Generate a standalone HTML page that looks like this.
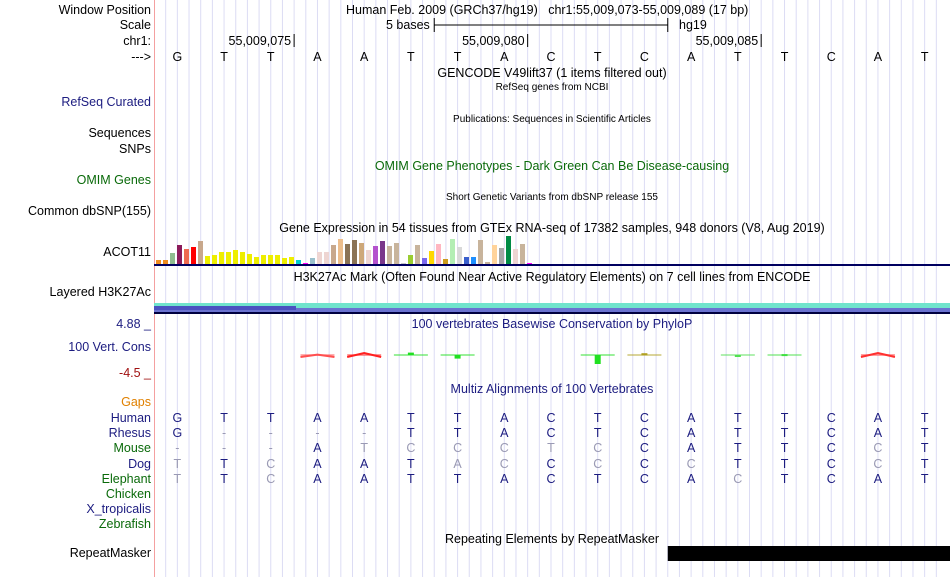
<!DOCTYPE html>
<html><head><meta charset="utf-8"><style>
body{margin:0;background:#fff;}
#c{position:relative;width:950px;height:577px;overflow:hidden;font-family:"Liberation Sans",sans-serif;font-size:12.5px;color:#000;}
.a{position:absolute;white-space:nowrap;line-height:14px;}
.l{position:absolute;right:799px;text-align:right;white-space:nowrap;line-height:14px;}
.t{position:absolute;left:154px;width:796px;text-align:center;white-space:nowrap;line-height:14px;}
.s{font-size:10px;}
.nv{color:#1c1c80}.gr{color:#0a6a0a}
</style></head><body>
<div id="c">
<svg id="g" width="950" height="577" style="position:absolute;left:0;top:0"></svg>
<div class="l" style="top:3px">Window Position</div>
<div class="l" style="top:18px">Scale</div>
<div class="l" style="top:34px">chr1:</div>
<div class="l" style="top:50px">---&gt;</div>
<div class="a" style="left:346px;top:3px">Human Feb. 2009 (GRCh37/hg19)&nbsp;&nbsp;&nbsp;chr1:55,009,073-55,009,089 (17 bp)</div>
<div class="a" style="left:386px;top:18px">5 bases</div>
<div class="a" style="left:679px;top:18px">hg19</div>
<div class="t" style="top:66px">GENCODE V49lift37 (1 items filtered out)</div>
<div class="t s" style="top:81px">RefSeq genes from NCBI</div>
<div class="l nv" style="top:95px">RefSeq Curated</div>
<div class="t s" style="top:113px">Publications: Sequences in Scientific Articles</div>
<div class="l" style="top:126px">Sequences</div>
<div class="l" style="top:142px">SNPs</div>
<div class="t gr" style="top:159px">OMIM Gene Phenotypes - Dark Green Can Be Disease-causing</div>
<div class="l gr" style="top:173px">OMIM Genes</div>
<div class="t s" style="top:191px">Short Genetic Variants from dbSNP release 155</div>
<div class="l" style="top:204px">Common dbSNP(155)</div>
<div class="t" style="top:221px">Gene Expression in 54 tissues from GTEx RNA-seq of 17382 samples, 948 donors (V8, Aug 2019)</div>
<div class="l" style="top:245px">ACOT11</div>
<div class="t" style="top:270px">H3K27Ac Mark (Often Found Near Active Regulatory Elements) on 7 cell lines from ENCODE</div>
<div class="l" style="top:285px">Layered H3K27Ac</div>
<div class="l nv" style="top:317px">4.88 _</div>
<div class="t nv" style="top:317px">100 vertebrates Basewise Conservation by PhyloP</div>
<div class="l nv" style="top:340px">100 Vert. Cons</div>
<div class="l" style="top:366px;color:#a01010">-4.5 _</div>
<div class="t nv" style="top:382px">Multiz Alignments of 100 Vertebrates</div>
<div class="l" style="top:395px;color:#e08000">Gaps</div>
<div class="t" style="top:532px">Repeating Elements by RepeatMasker</div>
<div class="l" style="top:546px">RepeatMasker</div>
</div>
<script>
const bases=["G","T","T","A","A","T","T","A","C","T","C","A","T","T","C","A","T"];
const species=["Human","Rhesus","Mouse","Dog","Elephant","Chicken","X_tropicalis","Zebrafish"];
const speciesColor=["#1c1c80","#1c1c80","#0a6a0a","#1c1c80","#0a6a0a","#0a6a0a","#1c1c80","#0a6a0a"];
const alignSeq=["GTTAATTACTCATTCAT","G----TTACTCATTCAT","---ATCCCTCCATTCCT","TTCAATACCCCCTTCCT","TTCAATTACTCACTCAT","","",""];
const alignGrey=["00000000000000000","01111000000000000","11101111110000010","10100011010100010","10100000000010000","","",""];
const gtexValues=[4,4,11,19,15,17,23,8,9,12,12,14,12,10,7,9,9,9,6,7,4,1,6,12,12,19,25,20,24,21,14,18,23,18,21,1,9,19,6,13,20,5,25,17,7,7,24,2,19,16,28,15,20,1];
const gtexColors=["#f08c1e","#f08c1e","#8fbc8f","#8b1a5a","#ee6a50","#ff0000","#c8a88c","#eeee00","#eeee00","#eeee00","#eeee00","#eeee00","#eeee00","#eeee00","#eeee00","#eeee00","#eeee00","#eeee00","#eeee00","#eeee00","#00cdcd","#ff00ff","#9ac0cd","#eed5d2","#eed5d2","#c8a88c","#edbe8c","#8b7355","#8b7355","#cda87a","#eed5d2","#b452cd","#7a378b","#c8b49c","#c8b49c","#c8c8c8","#9acd32","#c8b49c","#7b68ee","#ffd700","#ffb6c1","#cd9b1d","#b4eeb4","#d9d9d9","#3a5fcd","#1e90ff","#c8b49c","#c8b49c","#ffd39b","#a6a6a6","#008b45","#eed5d2","#c8b49c","#ff00ff"];
const consBase=[3,4,5,6,9,10,12,13,15];
const consVal=[-0.2,-1.0,0.8,-1.2,-3.0,0.6,-0.3,0.3,-1.0];
const consColor=["#ff5050","#ff2020","#20e020","#20e020","#20e020","#b0a020","#50e050","#40e040","#ff3030"];
const ruleTicks=["55,009,075","55,009,080","55,009,085"];
const ruleTickBase=[2,7,12];
const repeatStart=11, repeatEnd=17;

const NS="http://www.w3.org/2000/svg",svg=document.getElementById('g'),C=document.getElementById('c');
const X0=154,BW=(948-154)/17;
const bx=i=>X0+BW*i;
const consY=v=>355-v*3;
function el(t,a){const e=document.createElementNS(NS,t);for(const k in a)e.setAttribute(k,a[k]);svg.appendChild(e);return e;}
function txt(x,y,s,col,name){const d=document.createElement('div');d.className='a';d.style.left=(x-5)+'px';d.style.top=y+'px';d.style.width='10px';d.style.textAlign='center';d.style.color=col;d.textContent=s;


C.appendChild(d);}
for(let k=1;k<68;k++){const l=el('line',{x1:X0+BW/4*k,x2:X0+BW/4*k,y1:0,y2:577,stroke:'#dcdcf4','stroke-width':1});

}
let pl=el('line',{x1:154.5,x2:154.5,y1:0,y2:577,stroke:'#f4a0a0'});


let sb=el('path',{d:`M${bx(6)} 18V32M${bx(6)} 25H${bx(11)}M${bx(11)} 18V32`,stroke:'#000',fill:'none'});


ruleTicks.forEach((s,i)=>{const x=bx(ruleTickBase[i]+1);
const tk=el('line',{x1:x,x2:x,y1:34,y2:47,stroke:'#000'});


const d=document.createElement('div');d.className='a';d.style.left=(x-70)+'px';d.style.width='67px';d.style.textAlign='right';d.style.top='34px';d.textContent=s;


C.appendChild(d);});
bases.forEach((b,i)=>txt(bx(i)+BW/2,50,b,'#000','base-letter'));
const gb=264,gs=7;
gtexValues.forEach((v,i)=>{const r=el('rect',{x:156+gs*i,y:gb-v,width:5,height:v,fill:gtexColors[i]});

});
let nl=el('rect',{x:154,y:264,width:796,height:2,fill:'#000060'});


let h1=el('rect',{x:154,y:303,width:796,height:5,fill:'#70e4cc'});
let h2=el('rect',{x:154,y:308,width:796,height:4,fill:'#6a72d0'});
let h3=el('rect',{x:154,y:306,width:142,height:4,fill:'#4a52c0'});
let h4=el('rect',{x:154,y:312,width:796,height:2,fill:'#000040'});
consBase.forEach((k,i)=>{const v=consVal[i],cx=bx(k)+BW/2,y0=consY(0),y1=consY(v);
const ln=el('line',{x1:cx-17,x2:cx+17,y1:y0,y2:y0,stroke:consColor[i],'stroke-width':1.5,opacity:0.6});


let m;
if(consColor[i].indexOf('#ff')===0){m=el('path',{d:`M${cx-17} ${y0+2}L${cx} ${y0-Math.abs(v)*2}L${cx+17} ${y0+2}`,stroke:consColor[i],'stroke-width':2,fill:'none'});}
else{m=el('rect',{x:cx-3,y:Math.min(y0,y1),width:6,height:Math.max(2,Math.abs(y1-y0)),fill:consColor[i]});}

});
species.forEach((s,j)=>{const y=411+15.2*j;
const d=document.createElement('div');d.className='l';d.style.top=y+'px';d.style.color=speciesColor[j];d.textContent=s;


C.appendChild(d);
[...alignSeq[j]].forEach((b,i)=>txt(bx(i)+BW/2,y,b,alignGrey[j][i]==='1'?'#9a9ab4':'#1c1c80','align-base'));});
let rm=el('rect',{x:bx(repeatStart),y:546,width:bx(repeatEnd)-bx(repeatStart)+2,height:15,fill:'#000'});


</script>
</body></html>
